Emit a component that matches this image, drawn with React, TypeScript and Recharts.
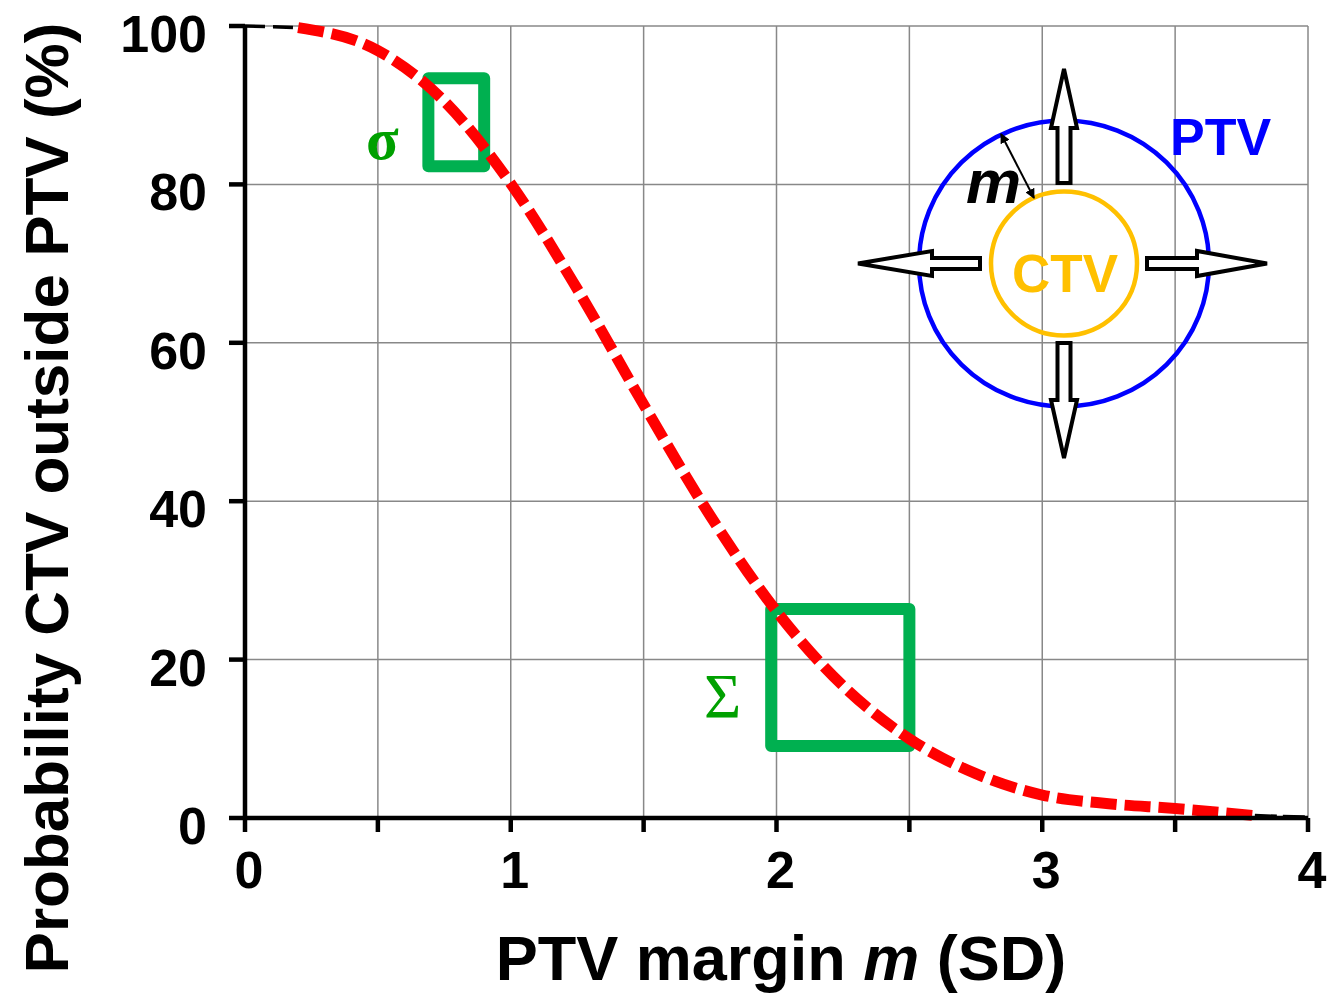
import React from 'react';
import { CartesianGrid, Line, LineChart, ReferenceArea, XAxis, YAxis } from 'recharts';

// PTV margin (in SD) against probability that the CTV ends up outside the PTV
const marginSD = [0, 0.2, 0.5, 0.75, 1, 1.25, 1.5, 1.75, 2, 2.25, 2.5, 2.75, 3, 3.25, 3.5, 3.8, 4];
const probability = [100, 99.8, 96.9, 90.5, 80.1, 66.8, 52.2, 38.2, 26.1, 16.7, 10.0, 5.6, 2.9, 1.8, 1.2, 0.3, 0.1];
// the red dashed overlay covers the middle, a thin black line shows at both ends
const redFrom = 0.2;
const redTo = 3.8;

const xTicks = [0, 0.5, 1, 1.5, 2, 2.5, 3, 3.5, 4];
const yTicks = [0, 20, 40, 60, 80, 100];

// green boxes marking the sigma / Sigma regions
const sigmaBox = { x1: 0.69, x2: 0.9, y1: 82.3, y2: 93.4 };
const bigSigmaBox = { x1: 1.98, x2: 2.5, y1: 9.1, y2: 26.4 };

const data = marginSD.map((m, i) => ({
  m,
  head: m <= redFrom ? probability[i] : null,
  tail: m >= redTo ? probability[i] : null,
  red: m >= redFrom && m <= redTo ? probability[i] : null,
}));

const FONT = "'Liberation Sans', Arial, Helvetica, sans-serif";
const GREEN = '#00b050';

const XTick = ({ x, y, payload }: any) =>
  Number.isInteger(payload.value) ? (
    <text x={x + 4} y={y + 56} textAnchor="middle" fontFamily={FONT} fontWeight={700} fontSize={52} fill="#000">
      {payload.value}
    </text>
  ) : null;

const YTick = ({ x, y, payload }: any) => (
  <text x={x - 22} y={y + 26} textAnchor="end" fontFamily={FONT} fontWeight={700} fontSize={52} fill="#000">
    {payload.value}
  </text>
);

const XTitle = () => (
  <text x={781} y={980} textAnchor="middle" fontFamily={FONT} fontWeight={700} fontSize={63} fill="#000">
    PTV margin <tspan fontStyle="italic">m</tspan> (SD)
  </text>
);

const YTitle = () => (
  <text
    x={68}
    y={498}
    transform="rotate(-90 68 498)"
    textAnchor="middle"
    fontFamily={FONT}
    fontWeight={700}
    fontSize={62}
    fill="#000"
  >
    Probability CTV outside PTV (%)
  </text>
);

function Inset() {
  const arrow = { fill: '#fff', stroke: '#000', strokeWidth: 4 };
  return (
    <svg width={1334} height={993} style={{ position: 'absolute', left: 0, top: 0, pointerEvents: 'none' }}>
      <defs>
        <marker id="ah" viewBox="0 0 10 10" refX="9" refY="5" markerWidth="5" markerHeight="5" orient="auto-start-reverse">
          <path d="M0,0 L10,5 L0,10 z" fill="#000" />
        </marker>
      </defs>
      <ellipse cx={1064} cy={263.5} rx={145} ry={143} fill="none" stroke="#0000ff" strokeWidth={4.5} />
      <ellipse cx={1064} cy={263.5} rx={73} ry={72} fill="none" stroke="#ffc000" strokeWidth={4.5} />
      <polygon points="1057.5,183 1057.5,128 1051,128 1064,69 1077,128 1070.5,128 1070.5,183" {...arrow} />
      <polygon points="1057.5,343 1057.5,400 1051,400 1064,458 1077,400 1070.5,400 1070.5,343" {...arrow} />
      <polygon points="1147,258 1197,258 1197,251 1267,263.5 1197,276 1197,269 1147,269" {...arrow} />
      <polygon points="980,258 932,258 932,251 858,263.5 932,276 932,269 980,269" {...arrow} />
      <line x1={1001} y1={134} x2={1034} y2={198} stroke="#000" strokeWidth={2} markerStart="url(#ah)" markerEnd="url(#ah)" />
      <text x={1065} y={292} textAnchor="middle" fontFamily={FONT} fontWeight={700} fontSize={53} fill="#ffc000">
        CTV
      </text>
      <text x={1170} y={155} fontFamily={FONT} fontWeight={700} fontSize={52} fill="#0000ff">
        PTV
      </text>
      <text x={966} y={203} fontFamily={FONT} fontWeight={700} fontStyle="italic" fontSize={62} fill="#000">
        m
      </text>
      <text x={366} y={159} fontFamily="'Liberation Serif', 'Times New Roman', serif" fontWeight={700} fontSize={60} fill="#00a000">
        σ
      </text>
      <text x={704} y={718} fontFamily="'Liberation Serif', 'Times New Roman', serif" fontSize={64} fill="#00a000">
        Σ
      </text>
    </svg>
  );
}

export default function App() {
  return (
    <div style={{ position: 'absolute', left: 0, top: 0, width: 1334, height: 993, background: '#fff' }}>
      <LineChart width={1334} height={993} data={data} margin={{ top: 26, right: 26, left: 0, bottom: 0 }}>
        <CartesianGrid stroke="#888888" strokeWidth={1.5} />
        <XAxis
          dataKey="m"
          type="number"
          domain={[0, 4]}
          ticks={xTicks}
          height={175}
          tickSize={14}
          tickMargin={0}
          stroke="#000"
          strokeWidth={4.5}
          tick={<XTick />}
          label={<XTitle />}
        />
        <XAxis
          xAxisId="top"
          orientation="top"
          dataKey="m"
          type="number"
          domain={[0, 4]}
          ticks={xTicks}
          height={0}
          tickSize={16}
          stroke="#000"
          strokeWidth={4.5}
          tick={false}
        />
        <YAxis
          type="number"
          domain={[0, 100]}
          ticks={yTicks}
          width={245}
          tickSize={16}
          tickMargin={0}
          stroke="#000"
          strokeWidth={4.5}
          tick={<YTick />}
          label={<YTitle />}
        />
        <YAxis
          yAxisId="right"
          orientation="right"
          type="number"
          domain={[0, 100]}
          ticks={yTicks}
          width={0}
          tickSize={14}
          stroke="#000"
          strokeWidth={4.5}
          tick={false}
        />
        <ReferenceArea {...sigmaBox} fill="#fff" fillOpacity={0} stroke={GREEN} strokeWidth={12} strokeLinejoin="round" />
        <ReferenceArea {...bigSigmaBox} fill="#fff" fillOpacity={0} stroke={GREEN} strokeWidth={12} strokeLinejoin="round" />
        <Line
          type="monotone"
          dataKey="head"
          stroke="#000"
          strokeWidth={3.5}
          strokeDasharray="20 8"
          dot={false}
          activeDot={false}
          isAnimationActive={false}
        />
        <Line
          type="monotone"
          dataKey="tail"
          stroke="#000"
          strokeWidth={3.5}
          strokeDasharray="22 6"
          dot={false}
          activeDot={false}
          isAnimationActive={false}
        />
        <Line
          type="monotone"
          dataKey="red"
          stroke="#ff0000"
          strokeWidth={11}
          strokeDasharray="26 8"
          dot={false}
          activeDot={false}
          isAnimationActive={false}
        />
      </LineChart>
      <Inset />
    </div>
  );
}
